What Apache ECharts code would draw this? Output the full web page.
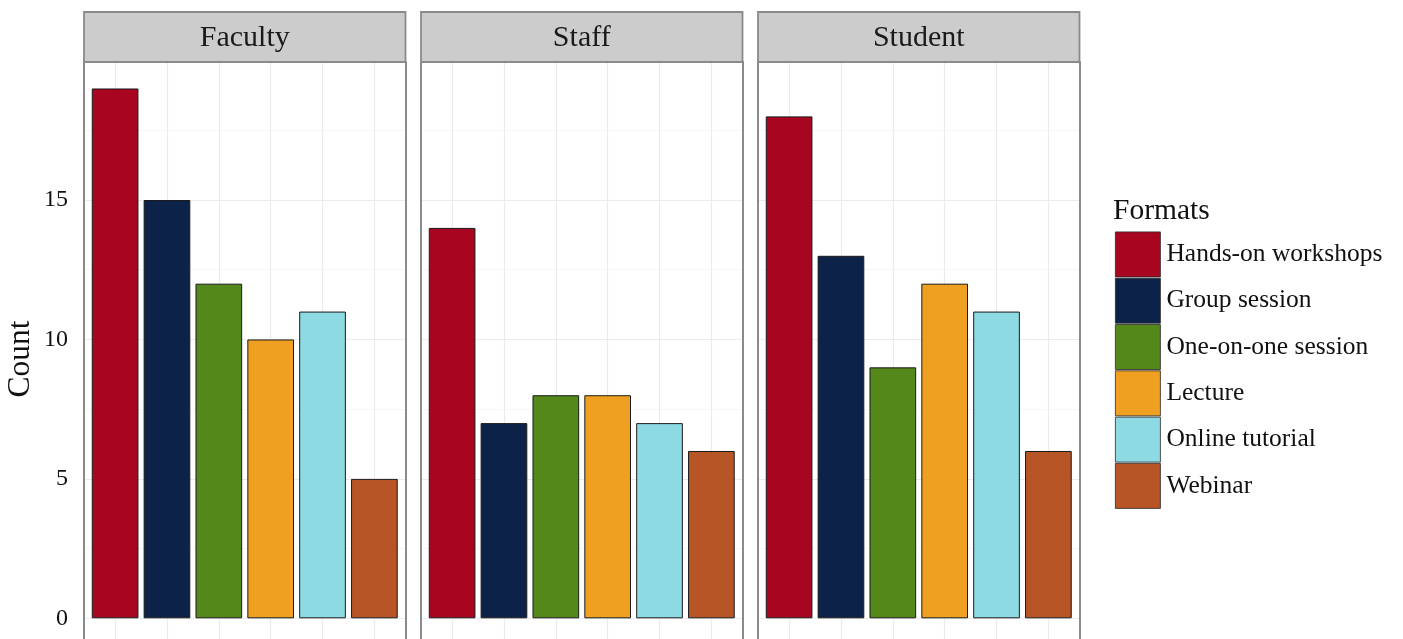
<!DOCTYPE html>
<html><head><meta charset="utf-8">
<script src="https://cdn.jsdelivr.net/npm/echarts@6/dist/echarts.min.js"></script>
<style>html,body{margin:0;padding:0;background:#fff}#c{width:1403px;height:639px}</style>
</head><body><div id="c"></div>
<script>
// ---- data ----
const groups = ['Faculty', 'Staff', 'Student'];
const formats = ['Hands-on workshops', 'Group session', 'One-on-one session', 'Lecture', 'Online tutorial', 'Webinar'];
const facultyCounts = [19, 15, 12, 10, 11, 5];
const staffCounts = [14, 7, 8, 8, 7, 6];
const studentCounts = [18, 13, 9, 12, 11, 6];
const yTickLabels = [0, 5, 10, 15];
const formatColors = ['#A80521', '#0C2249', '#55881A', '#F0A020', '#8DDAE3', '#B75527'];
const groupValues = [facultyCounts, staffCounts, studentCounts];

// ---- layout ----
const FONT = '"Liberation Serif", "Times New Roman", serif';
const canvasH = 639;
const panelLeft = [84, 421, 758];
const panelW = 321.5;
const panelTop = 62;
const zeroY = 618.3;
const pxPerUnit = 27.89;
const yMax = 19.95;
const yMin = -(canvasH - zeroY) / pxPerUnit;   // panel is cut by the bottom of the picture
const gridH = canvasH - panelTop;
const xMin = 0.4, xMax = formats.length + 0.6;
const barW = 0.9 * panelW / (xMax - xMin);
const borderCol = '#8A8A8A';

const grids = [], xAxes = [], yAxes = [], series = [], graphics = [];
groups.forEach((g, gi) => {
  grids.push({left: panelLeft[gi], top: panelTop, width: panelW, height: gridH,
    show: true, borderWidth: 0, backgroundColor: '#fff', containLabel: false});
  xAxes.push({gridIndex: gi, type: 'value', min: xMin, max: xMax, splitNumber: 6, minInterval: 1, maxInterval: 1,
    axisLine: {show: false}, axisTick: {show: false}, axisLabel: {show: false},
    splitLine: {show: true, showMinLine: false, showMaxLine: false, lineStyle: {color: '#EBEBEB', width: 1.2}}});
  // minor grid axis (right side, draws right panel border)
  yAxes.push({gridIndex: gi, type: 'value', position: 'right', min: yMin, max: yMax, minInterval: 2.5, maxInterval: 2.5,
    axisLine: {show: true, onZero: false, lineStyle: {color: borderCol, width: 2}},
    axisTick: {show: false}, axisLabel: {show: false},
    splitLine: {show: true, lineStyle: {color: '#F4F4F4', width: 0.8}}});
  // major axis (left side, draws left panel border)
  yAxes.push({gridIndex: gi, type: 'value', position: 'left', min: yMin, max: yMax, minInterval: 5, maxInterval: 5,
    axisLine: {show: true, onZero: false, lineStyle: {color: borderCol, width: 2}},
    axisTick: {show: false},
    axisLabel: {show: gi === 0, showMinLabel: false, showMaxLabel: false, margin: 16,
      fontSize: 24, fontFamily: FONT, color: '#111', padding: [4, 0, 0, 0],
      formatter: v => yTickLabels.indexOf(v) >= 0 ? String(v) : ''},
    splitLine: {show: true, lineStyle: {color: '#EBEBEB', width: 1.2}}});
  formats.forEach((f, fi) => {
    series.push({
      type: 'bar', name: f, xAxisIndex: gi, yAxisIndex: gi * 2 + 1,
      data: [[fi + 1, groupValues[gi][fi]]],
      barWidth: barW, barGap: '-100%',
      itemStyle: {color: formatColors[fi], borderColor: '#1a1a1a', borderWidth: 1},
      emphasis: {disabled: true}
    });
  });
  // strip
  graphics.push({type: 'rect', shape: {x: panelLeft[gi], y: 12, width: panelW, height: panelTop - 12},
    style: {fill: '#CCCCCC', stroke: borderCol, lineWidth: 1.8}, z: 10});
  graphics.push({type: 'text', x: panelLeft[gi] + panelW / 2, y: 38.5,
    style: {text: g, fill: '#1a1a1a', font: '30px ' + FONT, textAlign: 'center', textVerticalAlign: 'middle'}, z: 11});
});
graphics.push({type: 'text', x: 21, y: 359, rotation: Math.PI / 2,
  style: {text: 'Count', fill: '#111', font: '31.5px ' + FONT, textAlign: 'center', textVerticalAlign: 'middle'}});
graphics.push({type: 'text', x: 1113, y: 211,
  style: {text: 'Formats', fill: '#111', font: '29.5px ' + FONT, textAlign: 'left', textVerticalAlign: 'middle'}});

const chart = echarts.init(document.getElementById('c'), null, {renderer: 'canvas'});
chart.setOption({
  animation: false,
  backgroundColor: '#fff',
  grid: grids, xAxis: xAxes, yAxis: yAxes, series: series,
  legend: {data: formats, orient: 'vertical', left: 1115, top: 231.5, padding: 0,
    itemWidth: 45, itemHeight: 45, itemGap: 0.5, icon: 'rect', selectedMode: false,
    itemStyle: {borderColor: '#2a2a2a', borderWidth: 0.8},
    textStyle: {fontSize: 25.5, fontFamily: FONT, color: '#111', padding: [4, 0, 0, 1]}},
  graphic: graphics
});
</script></body></html>
